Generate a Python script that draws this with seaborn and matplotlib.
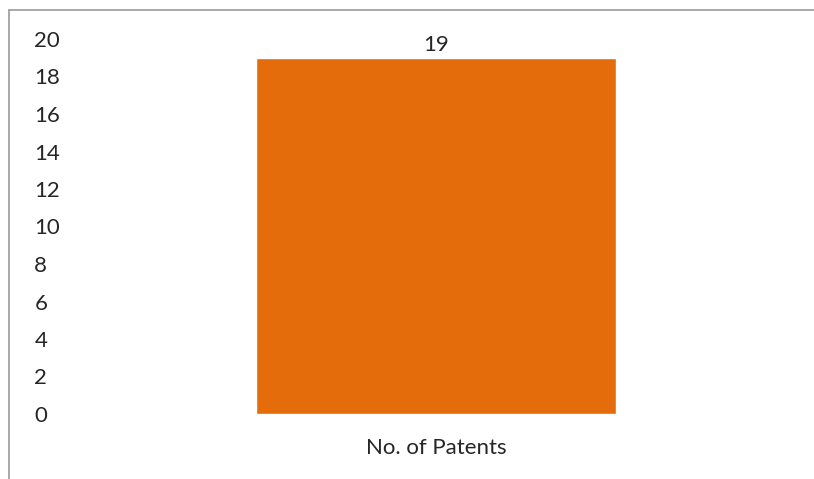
import pandas as pd
import matplotlib.pyplot as plt
import seaborn as sns
from matplotlib.lines import Line2D

# ==========================================
# DATA
# ==========================================

categories = ["No. of Patents"]
values = [19]
y_ticks = [0, 2, 4, 6, 8, 10, 12, 14, 16, 18, 20]

df = pd.DataFrame({"category": categories, "value": values})

# ==========================================
# PLOT
# ==========================================

sns.set_style("white")
plt.rcParams["font.family"] = ["Lato", "DejaVu Sans"]

W, H = 814, 479
fig = plt.figure(figsize=(W / 100, H / 100), dpi=100)
ax = fig.add_axes([76 / W, 1 - 414 / H, 720 / W, 375 / H])

sns.barplot(
    data=df,
    x="category",
    y="value",
    color="#E46C0A",
    saturation=1,
    width=0.5,
    ax=ax
)

ax.set_ylim(0, 20)
ax.set_xlim(-0.5, 0.5)
ax.set_yticks(y_ticks)
ax.set_yticklabels([str(t) for t in y_ticks])
ax.set_xlabel("")
ax.set_ylabel("")

for container in ax.containers:
    ax.bar_label(container, fontsize=16, color="#262626", padding=2)

ax.tick_params(axis="y", length=0, pad=30, labelsize=16, labelcolor="#262626")
ax.tick_params(axis="x", length=0, pad=17, labelsize=16, labelcolor="#262626")
for lbl in ax.get_yticklabels():
    lbl.set_horizontalalignment("left")

for side in ["top", "right", "bottom", "left"]:
    ax.spines[side].set_visible(False)

# chart border (cropped: only top and left visible)
fig.add_artist(Line2D([9 / W, 1], [1 - 10 / H, 1 - 10 / H], color="#9a9a9a", lw=1.2))
fig.add_artist(Line2D([9 / W, 9 / W], [0, 1 - 10 / H], color="#9a9a9a", lw=1.2))

fig.savefig("out.png", dpi=100)
